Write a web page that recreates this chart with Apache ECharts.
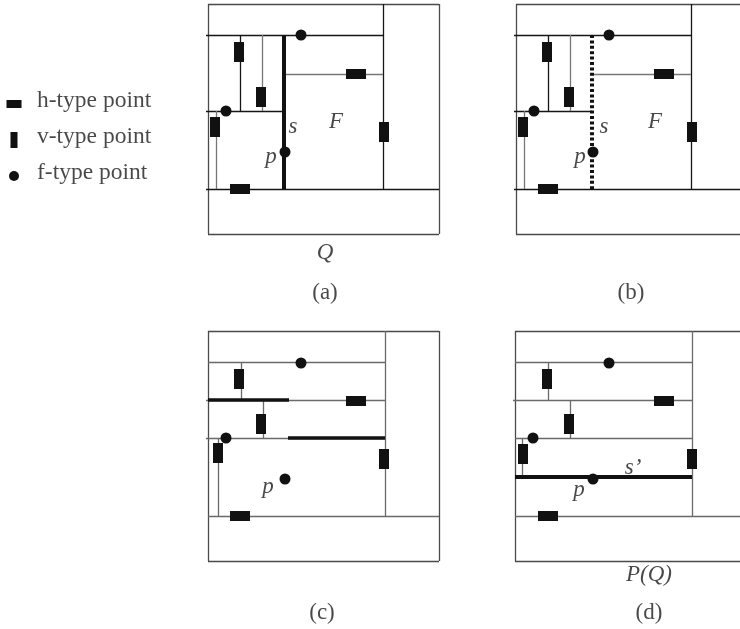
<!DOCTYPE html>
<html>
<head>
<meta charset="utf-8">
<script src="https://cdn.jsdelivr.net/npm/echarts@6/dist/echarts.min.js"></script>
<style>
  html, body { margin: 0; padding: 0; background: #fff; }
  #chart { width: 740px; height: 629px; }
</style>
</head>
<body>
<div id="chart"></div>
<script>
// panel-local geometry (pixels from each panel box's top-left corner)
const boxSize = [231, 230];
const origins = { a: [208, 4], b: [516, 4], c: [208, 331], d: [515, 331] };

// panels (a) and (b): partition Q with splitting segment s
const abDarkSegs = [[-2, 31, 175, 31], [175, 0, 175, 185], [-2, 185, 231, 185], [32, 31, 32, 107], [-2, 107, 76, 107]];
const abGraySegs = [[54, 31, 54, 107], [8, 107, 8, 185], [76, 70, 175, 70]];
const abSplitSeg = [[76, 31, 76, 185]];
const abF = [[93, 31], [18, 107], [77, 148]];
const abV = [[31, 48], [53, 93], [7, 123], [176, 128]];
const abH = [[148, 70], [32, 185]];

// panel (c)
const cSegs = [[0, 31, 177, 31], [-2, 69, 177, 69], [-2, 107, 177, 107], [0, 185, 231, 185], [177, 0, 177, 185], [33, 31, 33, 69], [55, 69, 55, 107], [10, 107, 10, 185]];
const cThick = [[0, 69, 81, 69], [80, 107, 177, 107]];
const cF = [[93, 32], [18, 107], [77, 148]];
const cV = [[31, 48], [53, 93], [10, 122], [176, 128]];
const cH = [[148, 70], [32, 185]];

// panel (d): P(Q)
const dSegs = [[0, 31, 177, 31], [-2, 69, 177, 69], [0, 107, 177, 107], [0, 185, 231, 185], [177, 0, 177, 185], [33, 31, 33, 69], [55, 69, 55, 107], [7, 107, 7, 146]];
const dThick = [[0, 146, 177, 146]];
const dF = [[94, 32], [18, 107], [78, 148]];
const dV = [[32, 48], [54, 93], [8, 123], [177, 128]];
const dH = [[149, 70], [33, 185]];

// italic labels and captions
const aLabels = [[85, 123, 's'], [128, 118, 'F'], [63, 153, 'p'], [117, 249, 'Q']];
const bLabels = [[88, 123, 's'], [139, 118, 'F'], [64, 153, 'p']];
const cLabels = [[60, 156, 'p']];
const dLabels = [[118, 137, 's\u2019'], [64, 159, 'p'], [134, 244, 'P(Q)']];
const captions = { a: [117, 289, '(a)'], b: [115, 289, '(b)'], c: [114, 282, '(c)'], d: [134, 282, '(d)'] };

// legend
const legendItems = [[14, 104, 'h-type point'], [14, 140, 'v-type point'], [14, 176, 'f-type point']];

const serif = '"Liberation Serif", "DejaVu Serif", serif';

function shift(pts, o) {
  return pts.map(p => [p[0] + o[0], p[1] + o[1]].concat(p.slice(2)));
}
function segs(list, o) {
  return list.map(s => ({ coords: [[s[0] + o[0], s[1] + o[1]], [s[2] + o[0], s[3] + o[1]]] }));
}
function boxSegs(o) {
  const w = boxSize[0], h = boxSize[1];
  return segs([[0, 0, w, 0], [w, 0, w, h], [w, h, 0, h], [0, h, 0, 0]], o);
}
function lineSeries(data, color, width, type) {
  return {
    type: 'lines', coordinateSystem: 'cartesian2d', data: data, silent: true,
    lineStyle: { color: color, width: width, type: type || 'solid', opacity: 1, cap: 'butt' },
    z: 2
  };
}
function markSeries(data, symbol, size) {
  return {
    type: 'scatter', data: data, symbol: symbol, symbolSize: size, silent: true,
    itemStyle: { color: '#111', opacity: 1 }, z: 5
  };
}
function textSeries(data, italic, position, size) {
  return {
    type: 'scatter', data: data, symbolSize: 0, silent: true, z: 6,
    label: {
      show: true, position: position || 'inside', distance: 0,
      formatter: p => p.value[2],
      fontFamily: serif, fontSize: size || 23, fontStyle: italic ? 'italic' : 'normal', color: '#1a1a1a'
    }
  };
}

const series = [
  // outer boxes
  lineSeries([].concat(boxSegs(origins.a), boxSegs(origins.b), boxSegs(origins.c), boxSegs(origins.d)), '#4a4a4a', 1.3),
  // (a)
  lineSeries(segs(abDarkSegs, origins.a), '#161616', 1.3),
  lineSeries(segs(abGraySegs, origins.a), '#777', 1.3),
  lineSeries(segs(abSplitSeg, origins.a), '#111', 4),
  // (b)
  lineSeries(segs(abDarkSegs, origins.b), '#161616', 1.3),
  lineSeries(segs(abGraySegs, origins.b), '#777', 1.3),
  lineSeries(segs(abSplitSeg, origins.b), '#111', 4, [3, 2.4]),
  // (c)
  lineSeries(segs(cSegs, origins.c), '#6a6a6a', 1.3),
  lineSeries(segs(cThick, origins.c), '#111', 3.5),
  // (d)
  lineSeries(segs(dSegs, origins.d), '#6a6a6a', 1.3),
  lineSeries(segs(dThick, origins.d), '#111', 4),
  // points
  markSeries([].concat(shift(abF, origins.a), shift(abF, origins.b), shift(cF, origins.c), shift(dF, origins.d)), 'circle', 11),
  markSeries([].concat(shift(abV, origins.a), shift(abV, origins.b), shift(cV, origins.c), shift(dV, origins.d)), 'rect', [10, 20]),
  markSeries([].concat(shift(abH, origins.a), shift(abH, origins.b), shift(cH, origins.c), shift(dH, origins.d)), 'rect', [20, 10]),
  // legend marks
  markSeries([legendItems[0]], 'rect', [15, 8]),
  markSeries([legendItems[1]], 'rect', [7, 16]),
  markSeries([legendItems[2]], 'circle', 10),
  textSeries(legendItems.map(l => [l[0] + 23, l[1] - 3, l[2]]), false, 'right', 23.5),
  // labels
  textSeries([].concat(shift(aLabels, origins.a), shift(bLabels, origins.b), shift(cLabels, origins.c), shift(dLabels, origins.d)), true),
  textSeries(['a', 'b', 'c', 'd'].map(k => [captions[k][0] + origins[k][0], captions[k][1] + origins[k][1], captions[k][2]]), false)
];

const chart = echarts.init(document.getElementById('chart'), null, { renderer: 'canvas' });
chart.setOption({
  animation: false,
  backgroundColor: '#fff',
  grid: { left: 0, right: 0, top: 0, bottom: 0 },
  xAxis: { type: 'value', min: 0, max: 740, show: false },
  yAxis: { type: 'value', min: 0, max: 629, inverse: true, show: false },
  series: series
});
</script>
</body>
</html>
